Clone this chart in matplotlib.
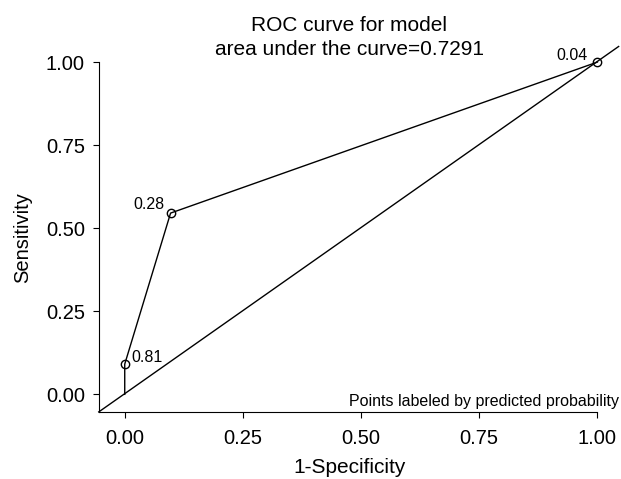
import numpy as np
import matplotlib.pyplot as plt

plt.rcParams['font.family'] = ['Liberation Sans', 'DejaVu Sans']

# ROC points (1-specificity, sensitivity) and cutoff labels
fpr = [0.0, 0.0, 0.097, 1.0]
tpr = [0.0, 0.0909, 0.5455, 1.0]
mark_x = [0.0, 0.097, 1.0]
mark_y = [0.0909, 0.5455, 1.0]
mark_lab = ['0.81', '0.28', '0.04']
ticks = [0.0, 0.25, 0.5, 0.75, 1.0]
tick_labels = ['0.00', '0.25', '0.50', '0.75', '1.00']

fig = plt.figure(figsize=(6.21, 4.79), dpi=100)
ax = fig.add_axes([0.159, 0.140, 0.841, 0.772])
ax.set_xlim(-0.055, 1.05)
ax.set_ylim(-0.053, 1.06)

ax.plot(fpr, tpr, color='black', lw=1)
ax.plot(mark_x, mark_y, 'o', mfc='none', mec='black', ms=6, mew=1)
# reference line
ax.plot([-0.055, 1.045], [-0.053, 1.047], color='black', lw=1, clip_on=False)

offsets = [(0.015, 0.006, 'left'), (-0.013, 0.012, 'right'), (-0.021, 0.006, 'right')]
for x, y, s, (dx, dy, ha) in zip(mark_x, mark_y, mark_lab, offsets):
    ax.text(x + dx, y + dy, s, ha=ha, va='baseline', fontsize=11.5)

ax.text(1.045, -0.021, 'Points labeled by predicted probability', ha='right', va='center', fontsize=11.5)

ax.spines['top'].set_visible(False)
ax.spines['right'].set_visible(False)
ax.spines['left'].set_bounds(-0.053, 1.0)
ax.spines['bottom'].set_bounds(-0.055, 1.0)
ax.set_xticks(ticks)
ax.set_xticklabels(tick_labels)
ax.set_yticks(ticks)
ax.set_yticklabels(tick_labels)
ax.tick_params(labelsize=14.5, length=4.5)
ax.tick_params(axis='x', pad=8)
ax.tick_params(axis='y', pad=5.5)

fig.text(0.562, 0.935, 'ROC curve for model', ha='center', va='baseline', fontsize=15)
fig.text(0.562, 0.885, 'area under the curve=0.7291', ha='center', va='baseline', fontsize=15)
fig.text(0.563, 0.013, '1-Specificity', ha='center', va='baseline', fontsize=15)
fig.text(0.036, 0.505, 'Sensitivity', ha='center', va='center', rotation=90, fontsize=14.5)

fig.savefig('out.png', dpi=100)
